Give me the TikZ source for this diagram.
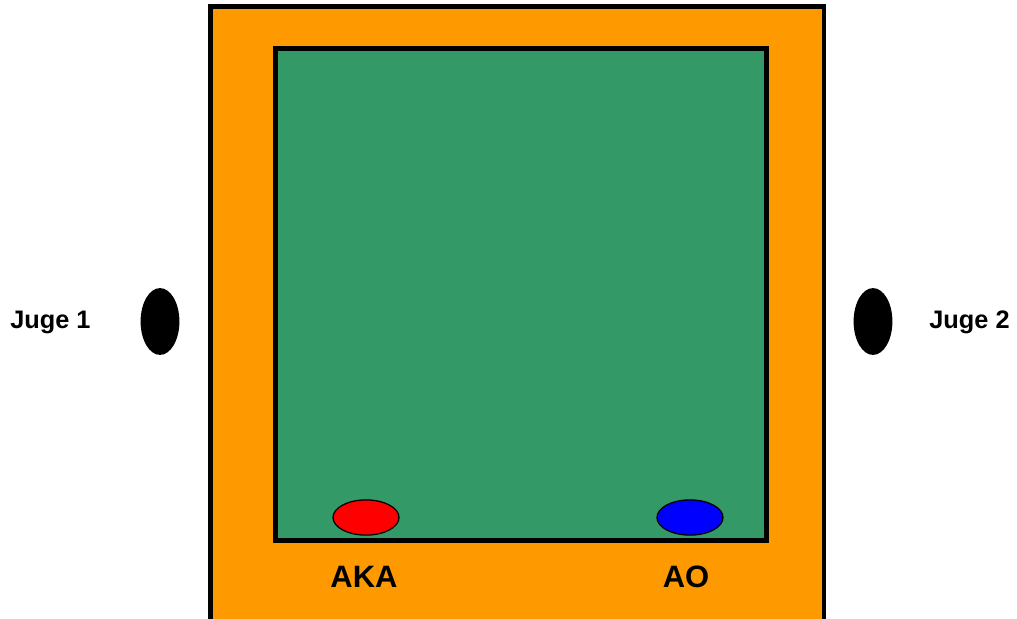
\documentclass[tikz,border=0pt]{standalone}
\usepackage{fontspec}
\setmainfont{Liberation Sans}
\usepackage{tikz}
\usetikzlibrary{positioning, shapes.geometric}

\definecolor{tatami}{RGB}{255,153,0}
\definecolor{aire}{RGB}{51,153,102}

\begin{document}
\begin{tikzpicture}[
    x=0.025cm, y=-0.025cm,
    zone/.style={draw=black, line width=3.5pt},
    juge/.style={ellipse, fill=black, inner sep=0pt,
                 minimum width=0.97cm, minimum height=1.67cm},
    combattant/.style={ellipse, draw=black, line width=0.9pt, inner sep=0pt,
                       minimum width=1.65cm, minimum height=0.88cm},
    nom/.style={font=\bfseries\fontsize{18}{20}\selectfont},
    cote/.style={font=\bfseries\fontsize{22}{24}\selectfont},
]

\useasboundingbox (0,0) rectangle (1017,618);
\clip (0,0) rectangle (1017,618);

% Tatami et aire de combat
\draw[zone, fill=tatami] (210.5,6.5) rectangle (824,640);
\draw[zone, fill=aire] (275.5,48.5) rectangle (766.5,540.5);

% Juges
\node[juge] (juge1) at (160,321.5) {};
\node[juge] (juge2) at (873,321.5) {};
\node[nom] (lbl1) at (50.5,322) {Juge 1};
\node[nom] (lbl2) at (969.5,322) {Juge 2};

% Combattants
\node[combattant, fill=red] (aka) at (366,517.5) {};
\node[combattant, fill=blue] (ao) at (690,517.5) {};
\node[cote] (lblaka) at (364,577) {AKA};
\node[cote] (lblao) at (686,577) {AO};

\end{tikzpicture}
\end{document}
